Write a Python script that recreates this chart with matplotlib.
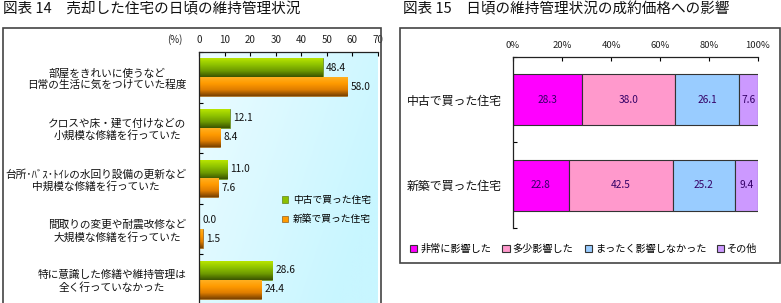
import numpy as np
import matplotlib
matplotlib.use("Agg")
import matplotlib.pyplot as plt
from matplotlib.colors import LinearSegmentedColormap
from matplotlib.patches import Rectangle, Patch

plt.rcParams['font.family'] = ['Noto Sans CJK JP', 'DejaVu Sans']

# ---- data: figure 14 ----
title14 = "図表 14　売却した住宅の日頃の維持管理状況"
cats14 = ["部屋をきれいに使うなど\n日常の生活に気をつけていた程度",
          "クロスや床・建て付けなどの\n小規模な修繕を行っていた",
          "台所･ﾊﾞｽ･ﾄｲﾚの水回り設備の更新など\n中規模な修繕を行っていた",
          "間取りの変更や耐震改修など\n大規模な修繕を行っていた",
          "特に意識した修繕や維持管理は\n全く行っていなかった"]
used14 = [48.4, 12.1, 11.0, 0.0, 28.6]
new14 = [58.0, 8.4, 7.6, 1.5, 24.4]
series14 = ["中古で買った住宅", "新築で買った住宅"]
ticks14 = [0, 10, 20, 30, 40, 50, 60, 70]

# ---- data: figure 15 ----
title15 = "図表 15　日頃の維持管理状況の成約価格への影響"
cats15 = ["中古で買った住宅", "新築で買った住宅"]
seg_names = ["非常に影響した", "多少影響した", "まったく影響しなかった", "その他"]
seg_vals = [[28.3, 22.8],
            [38.0, 42.5],
            [26.1, 25.2],
            [7.6, 9.4]]
ticks15 = [0, 20, 40, 60, 80, 100]

W, H = 781, 303
fig = plt.figure(figsize=(W / 100, H / 100), dpi=100)
fig.patch.set_facecolor("white")


def fx(px):
    return px / W


def fy(py):
    return 1 - py / H


# titles
fig.text(fx(3), fy(9), title14, fontsize=10.5, va="center", ha="left", color="#111")
fig.text(fx(403), fy(9), title15, fontsize=10.5, va="center", ha="left", color="#111")

# panel frames
fig.add_artist(Rectangle((fx(3), fy(310)), fx(378), fy(28) - fy(310),
                         transform=fig.transFigure, fill=False, ec="#444", lw=1.2))
fig.add_artist(Rectangle((fx(400), fy(263)), fx(380), fy(28) - fy(263),
                         transform=fig.transFigure, fill=False, ec="#444", lw=1.2))

# ================= left chart =================
ax1 = fig.add_axes([fx(199), fy(305), fx(378 - 199), fy(52) - fy(305)])

# background gradient (white -> light cyan)
gx, gy = np.meshgrid(np.linspace(0, 1, 200), np.linspace(0, 1, 200))
bg = np.clip(0.35 + 0.65 * gx * 0.8 + 0.25 * gy, 0, 1)
bg_cmap = LinearSegmentedColormap.from_list("bg", ["#ffffff", "#c8f6ff"])
ax1.imshow(bg, extent=(0, 1, 0, 1), transform=ax1.transAxes, aspect="auto",
           cmap=bg_cmap, vmin=0, vmax=1, zorder=0)

green_cmap = LinearSegmentedColormap.from_list("g", ["#b8e400", "#90c400", "#6e9a00", "#3a5400"])
orange_cmap = LinearSegmentedColormap.from_list("o", ["#ffb020", "#ff9a00", "#e07e00", "#7a4200"])

y = np.arange(len(cats14))
h = 0.375
bars_g = ax1.barh(y - h / 2, used14, height=h, color="#8cc000", edgecolor="#4a6a00", lw=0.4, zorder=2)
bars_o = ax1.barh(y + h / 2, new14, height=h, color="#ff9a00", edgecolor="#7a4200", lw=0.4, zorder=2)

grad = np.linspace(0, 1, 64).reshape(-1, 1)
for bars, cm in [(bars_g, green_cmap), (bars_o, orange_cmap)]:
    for b in bars:
        x0, y0, w, hh = b.get_x(), b.get_y(), b.get_width(), b.get_height()
        if w <= 0:
            continue
        ax1.imshow(grad, extent=(x0, x0 + w, y0 + hh, y0), aspect="auto",
                   cmap=cm, zorder=2.5)

for b, v in zip(bars_g, used14):
    ax1.text(v + 1.2, b.get_y() + b.get_height() / 2, f"{v:.1f}", fontsize=7.3,
             va="center", ha="left", color="#111", zorder=3)
for b, v in zip(bars_o, new14):
    ax1.text(v + 1.2, b.get_y() + b.get_height() / 2, f"{v:.1f}", fontsize=7.3,
             va="center", ha="left", color="#111", zorder=3)

ax1.set_xlim(0, 70)
ax1.set_ylim(len(cats14) - 0.5, -0.5)
ax1.xaxis.tick_top()
ax1.set_xticks(ticks14)
ax1.set_xticklabels([str(t) for t in ticks14], fontsize=7, color="#222")
ax1.tick_params(axis="x", direction="in", length=3, pad=5, width=0.8)
ax1.set_yticks(y)
ax1.set_yticklabels(cats14, fontsize=7.7, color="#111", linespacing=1.2)
for lab in ax1.get_yticklabels():
    lab.set_multialignment("center")
ax1.tick_params(axis="y", which="major", length=0, pad=9)
ax1.set_yticks(np.arange(len(cats14) + 1) - 0.5, minor=True)
ax1.tick_params(axis="y", which="minor", direction="in", length=3, width=0.8)
for s in ["right", "bottom"]:
    ax1.spines[s].set_visible(False)
for s in ["top", "left"]:
    ax1.spines[s].set_color("#222")
    ax1.spines[s].set_linewidth(0.9)
fig.text(fx(175), fy(40), "(%)", fontsize=7, ha="center", va="center", color="#222")

handles14 = [Patch(facecolor="#8cc000", edgecolor="#4a6a00", lw=0.4),
             Patch(facecolor="#ff9a00", edgecolor="#7a4200", lw=0.4)]
ax1.legend(handles14, series14, loc="upper left", bbox_to_anchor=(fx(282), fy(195)),
           bbox_transform=fig.transFigure, frameon=False, fontsize=7,
           handlelength=0.6, handleheight=0.6, handletextpad=0.5,
           labelspacing=0.95, borderpad=0, borderaxespad=0)

# ================= right chart =================
ax2 = fig.add_axes([fx(513), fy(228), fx(758 - 513), fy(57) - fy(228)])
seg_colors = ["#ff00ff", "#ff99cc", "#99ccff", "#cc99ff"]
y2 = np.arange(len(cats15))
left = np.zeros(len(cats15))
for vals, name, col in zip(seg_vals, seg_names, seg_colors):
    bars = ax2.barh(y2, vals, left=left, height=0.6, color=col, edgecolor="#333",
                    lw=0.8, label=name, zorder=2)
    for b, v in zip(bars, vals):
        ax2.text(b.get_x() + b.get_width() / 2, b.get_y() + b.get_height() / 2,
                 f"{v:.1f}", fontsize=7.3, ha="center", va="center", color="#330066", zorder=3)
    left = left + np.array(vals)

ax2.set_xlim(0, 100)
ax2.set_ylim(len(cats15) - 0.5, -0.5)
ax2.xaxis.tick_top()
ax2.set_xticks(ticks15)
ax2.set_xticklabels([f"{t}%" for t in ticks15], fontsize=6.8, color="#222")
ax2.tick_params(axis="x", direction="in", length=3, pad=5, width=0.8)
ax2.set_yticks(y2)
ax2.set_yticklabels(cats15, fontsize=8.6, color="#111")
ax2.tick_params(axis="y", which="major", length=0, pad=8)
ax2.set_yticks(np.arange(len(cats15) + 1) - 0.5, minor=True)
ax2.tick_params(axis="y", which="minor", direction="in", length=3, width=0.8)
for s in ["right", "bottom"]:
    ax2.spines[s].set_visible(False)
for s in ["top", "left"]:
    ax2.spines[s].set_color("#222")
    ax2.spines[s].set_linewidth(0.9)

ax2.legend(loc="center", bbox_to_anchor=(fx(584), fy(249)), bbox_transform=fig.transFigure,
           ncol=4, frameon=False, fontsize=7.3, handlelength=0.7, handleheight=0.7,
           handletextpad=0.3, columnspacing=1.1, borderpad=0, borderaxespad=0)

fig.savefig("out.png", dpi=100)
